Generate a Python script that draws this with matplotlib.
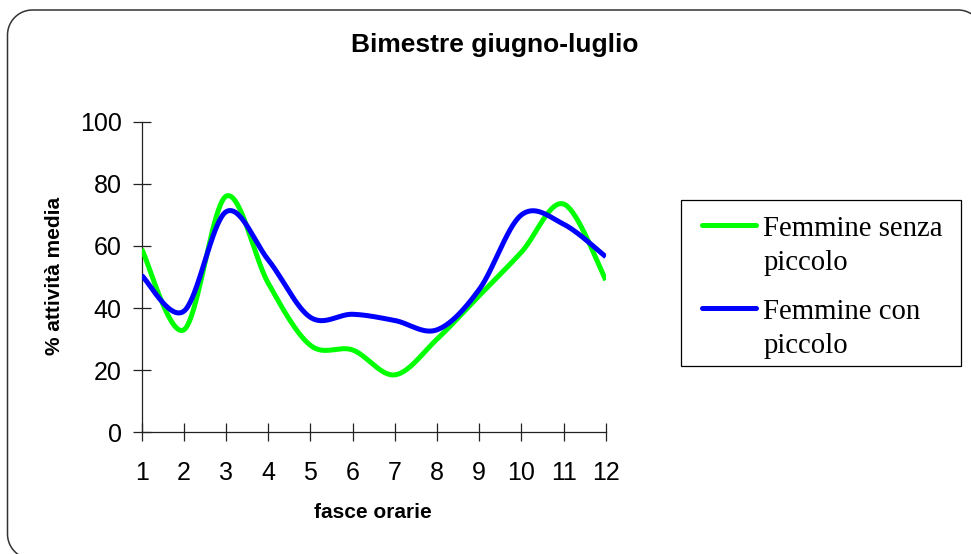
import numpy as np
import matplotlib
matplotlib.use("Agg")
import matplotlib.pyplot as plt
from matplotlib.patches import PathPatch, Rectangle
from matplotlib.path import Path
from matplotlib.legend_handler import HandlerLine2D

plt.rcParams['font.family'] = ['Liberation Sans', 'DejaVu Sans']

# ---------------- data ----------------
fasce_orarie = [1, 2, 3, 4, 5, 6, 7, 8, 9, 10, 11, 12]
senza_piccolo = [59, 33, 76, 48, 28, 26.5, 18.5, 30, 44, 58, 73.5, 49]
con_piccolo = [50.5, 39, 71, 55.5, 37, 38, 36, 33, 46, 70, 67, 56.5]
y_ticks = [0, 20, 40, 60, 80, 100]
label_senza = "Femmine senza\npiccolo"
label_con = "Femmine con\npiccolo"
title_text = "Bimestre giugno-luglio"
xlabel_text = "fasce orarie"
ylabel_text = "% attività media"


def smooth(x, y, n=40):
    """Excel-like smoothed line: Catmull-Rom Bezier through the data points."""
    x = np.asarray(x, float)
    y = np.asarray(y, float)
    px = np.concatenate([[x[0]], x, [x[-1]]])
    py = np.concatenate([[y[0]], y, [y[-1]]])
    t = np.linspace(0, 1, n)
    xs, ys = [], []
    for i in range(len(x) - 1):
        p0 = np.array([px[i], py[i]])
        p1 = np.array([px[i + 1], py[i + 1]])
        p2 = np.array([px[i + 2], py[i + 2]])
        p3 = np.array([px[i + 3], py[i + 3]])
        c1 = p1 + (p2 - p0) / 6.0
        c2 = p2 - (p3 - p1) / 6.0
        tt = t if i == 0 else t[1:]
        b = ((1 - tt) ** 3)[:, None] * p1 + (3 * (1 - tt) ** 2 * tt)[:, None] * c1 \
            + (3 * (1 - tt) * tt ** 2)[:, None] * c2 + (tt ** 3)[:, None] * p2
        xs.append(b[:, 0])
        ys.append(b[:, 1])
    return np.concatenate(xs), np.concatenate(ys)


class FirstLineHandler(HandlerLine2D):
    """Legend line aligned with the first line of a two-line label."""
    def __init__(self, shift, **kw):
        super().__init__(**kw)
        self.shift = shift

    def create_artists(self, legend, orig_handle, xdescent, ydescent,
                       width, height, fontsize, trans):
        arts = super().create_artists(legend, orig_handle, xdescent, ydescent,
                                      width, height, fontsize, trans)
        for a in arts:
            a.set_ydata(np.asarray(a.get_ydata(), float) + self.shift)
            a.set_solid_capstyle('round')
        return arts


W, H = 971, 554
fig = plt.figure(figsize=(W / 100, H / 100), dpi=100)
fig.patch.set_facecolor('white')


def px2fig(x, y):
    return x / W, 1 - y / H


def rounded_rect_path(left, top, right, bottom, r, n=24):
    """Rounded rectangle in pixel coords (y downward) -> figure fractions."""
    pts = []
    corners = [(right - r, top + r, -90, 0), (right - r, bottom - r, 0, 90),
               (left + r, bottom - r, 90, 180), (left + r, top + r, 180, 270)]
    for cx, cy, a0, a1 in corners:
        a = np.radians(np.linspace(a0, a1, n))
        pts.extend(zip(cx + r * np.cos(a), cy + r * np.sin(a)))
    pts.append(pts[0])
    pts = np.array(pts)
    pts[:, 0] = pts[:, 0] / W
    pts[:, 1] = 1 - pts[:, 1] / H
    return Path(pts)


border = PathPatch(rounded_rect_path(7.5, 10, 983, 559, 25),
                   transform=fig.transFigure, facecolor='none',
                   edgecolor='#333333', linewidth=1.1)
fig.patches.append(border)

x0, x1 = 141.7, 605.8
y0, y1 = 432.3, 121.7
ax = fig.add_axes([x0 / W, 1 - y0 / H, (x1 - x0) / W, (y0 - y1) / H])

gx, gy = smooth(fasce_orarie, senza_piccolo)
bx, by = smooth(fasce_orarie, con_piccolo)
lg, = ax.plot(gx, gy, color='#00FF00', lw=3.6, solid_capstyle='butt',
              solid_joinstyle='round', label=label_senza, zorder=3)
lb, = ax.plot(bx, by, color='#0000FF', lw=3.6, solid_capstyle='butt',
              solid_joinstyle='round', label=label_con, zorder=4)

ax.set_xlim(fasce_orarie[0], fasce_orarie[-1])
ax.set_ylim(y_ticks[0], y_ticks[-1])
ax.set_xticks(fasce_orarie)
ax.set_xticklabels([str(v) for v in fasce_orarie])
ax.set_yticks(y_ticks)
ax.set_yticklabels([str(v) for v in y_ticks])

for s in ['top', 'right']:
    ax.spines[s].set_visible(False)
for s in ['left', 'bottom']:
    ax.spines[s].set_linewidth(0.9)
    ax.spines[s].set_color('#222222')

ax.tick_params(axis='both', direction='inout', length=13, width=0.9,
               color='#222222', labelsize=18, labelcolor='black')
ax.tick_params(axis='x', pad=14)
ax.tick_params(axis='y', pad=8)
ax.set_facecolor('none')

ax.set_xlabel(xlabel_text, fontsize=15, fontweight='bold', va='center', ha='center')
ax.xaxis.set_label_coords((373 - x0) / (x1 - x0), (y0 - 513) / (y0 - y1))
ax.set_ylabel(ylabel_text, fontsize=15, fontweight='bold', va='center', ha='center')
ax.yaxis.set_label_coords((54 - x0) / (x1 - x0), (y0 - 276) / (y0 - y1))

fig.text(495 / W, 1 - 51.7 / H, title_text, fontsize=19, fontweight='bold',
         ha='center', va='baseline')

# legend (frame drawn separately so it matches the reference box exactly)
leg_fs = 20.7
leg_pad_px = 19
leg = ax.legend(handles=[lg, lb], loc='upper left',
                bbox_to_anchor=px2fig(683, 215.7 - leg_pad_px),
                bbox_transform=fig.transFigure, borderaxespad=0,
                prop={'family': 'Liberation Serif', 'size': leg_fs},
                handlelength=1.87, handletextpad=0.26, labelspacing=0.81,
                borderpad=leg_pad_px / (leg_fs * 100 / 72), frameon=False,
                handler_map={lg: FirstLineHandler(15), lb: FirstLineHandler(15)})
for t in leg.get_texts():
    t.set_linespacing(1.39)

lx0, ly0 = px2fig(681, 366)
lx1, ly1 = px2fig(961, 200)
fig.patches.append(Rectangle((lx0, ly0), lx1 - lx0, ly1 - ly0,
                             transform=fig.transFigure, facecolor='none',
                             edgecolor='black', linewidth=0.9, zorder=1))

fig.savefig('out.png', dpi=100)
